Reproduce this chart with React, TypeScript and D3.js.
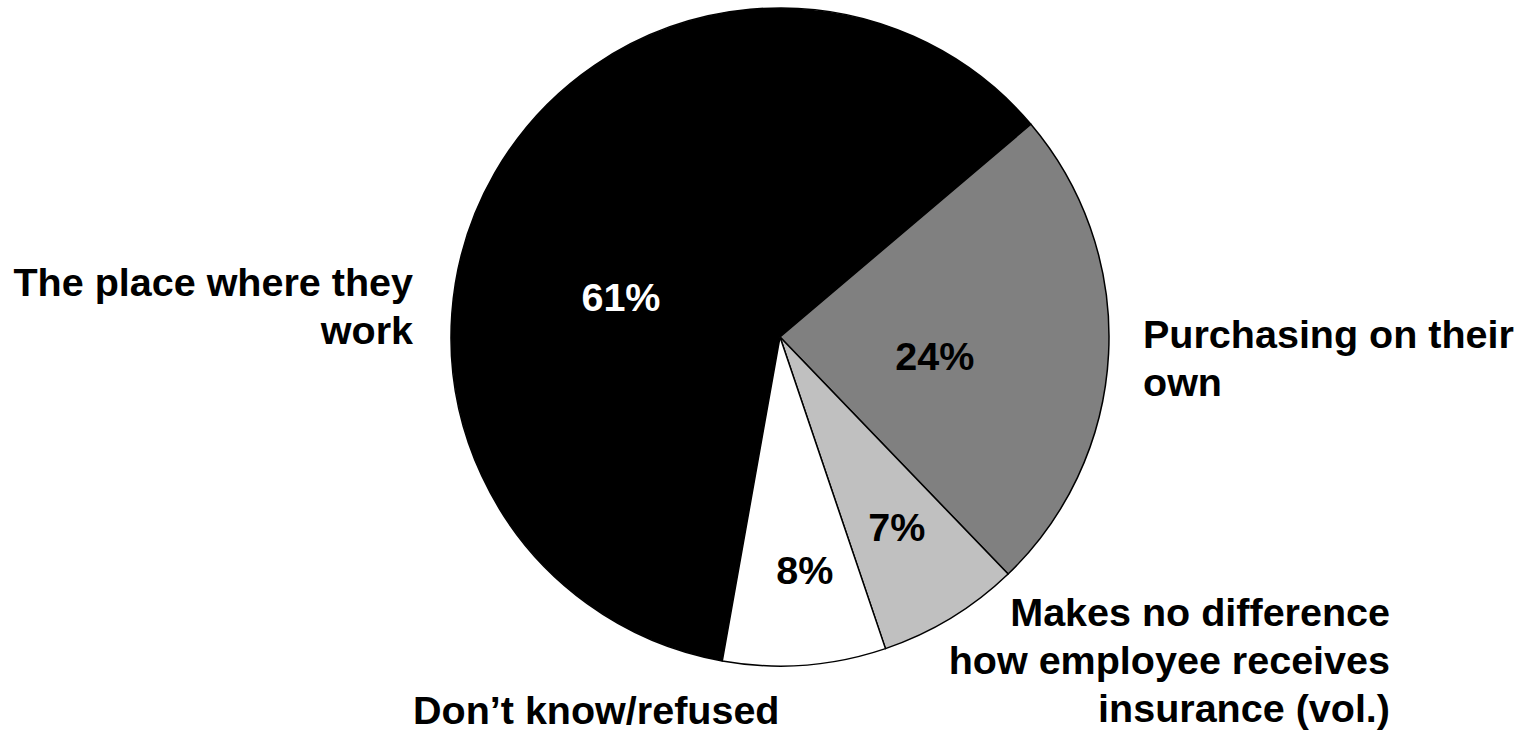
import React from "react";
import * as d3 from "d3";

const categories = [
  "The place where they work",
  "Purchasing on their own",
  "Makes no difference how employee receives insurance (vol.)",
  "Don\u2019t know/refused",
];
const values = [61, 24, 7, 8];
const valueLabels = ["61%", "24%", "7%", "8%"];
const labelLines = [
  ["The place where they", "work"],
  ["Purchasing on their", "own"],
  ["Makes no difference", "how employee receives", "insurance (vol.)"],
  ["Don\u2019t know/refused"],
];

const fills = ["#000000", "#808080", "#c0c0c0", "#ffffff"];
const pctColors = ["#ffffff", "#000000", "#000000", "#000000"];
// label placement (angle offset in degrees from slice mid, radius)
const pctPlace = [
  { dAng: -15.8, r: 164 },
  { dAng: 4.1, r: 156 },
  { dAng: -0.3, r: 223 },
  { dAng: -1.8, r: 234 },
];
const catPlace = [
  { x: 413, y: 296, anchor: "end" },
  { x: 1143, y: 348, anchor: "start" },
  { x: 1390, y: 626, anchor: "end" },
  { x: 413, y: 724, anchor: "start" },
];

const W = 1528;
const H = 736;
const cx = 780;
const cy = 337;
const R = 329;
const FONT = "'Liberation Sans', Arial, sans-serif";
const FS = 39.5;

export default function App() {
  const start = (-169.9 * Math.PI) / 180;
  const pie = d3
    .pie<number>()
    .sort(null)
    .value((d) => d)
    .startAngle(start)
    .endAngle(start + 2 * Math.PI);
  const arcs = pie(values);
  const arc = d3.arc<d3.PieArcDatum<number>>().innerRadius(0).outerRadius(R);

  return (
    <svg
      width={W}
      height={H}
      style={{ position: "absolute", left: 0, top: 0, background: "#fff" }}
    >
      <g transform={`translate(${cx},${cy})`}>
        {arcs.map((a, i) => (
          <path
            key={i}
            d={arc(a) || ""}
            fill={fills[i]}
            stroke="#000"
            strokeWidth={1.5}
            strokeLinejoin="round"
          />
        ))}
        {arcs.map((a, i) => {
          const mid = (a.startAngle + a.endAngle) / 2 + (pctPlace[i].dAng * Math.PI) / 180;
          const r = pctPlace[i].r;
          const x = Math.sin(mid) * r;
          const y = -Math.cos(mid) * r;
          return (
            <text
              key={"p" + i}
              x={x}
              y={y}
              textAnchor="middle"
              dominantBaseline="central"
              fill={pctColors[i]}
              fontFamily={FONT}
              fontWeight="bold"
              fontSize={FS}
            >
              {valueLabels[i]}
            </text>
          );
        })}
      </g>
      {labelLines.map((lines, i) => (
        <text
          key={"c" + i}
          textAnchor={catPlace[i].anchor as any}
          fontFamily={FONT}
          fontWeight="bold"
          fontSize={FS}
          fill="#000"
        >
          <title>{categories[i]}</title>
          {lines.map((ln, j) => (
            <tspan key={j} x={catPlace[i].x} y={catPlace[i].y + j * 48}>
              {ln}
            </tspan>
          ))}
        </text>
      ))}
    </svg>
  );
}
